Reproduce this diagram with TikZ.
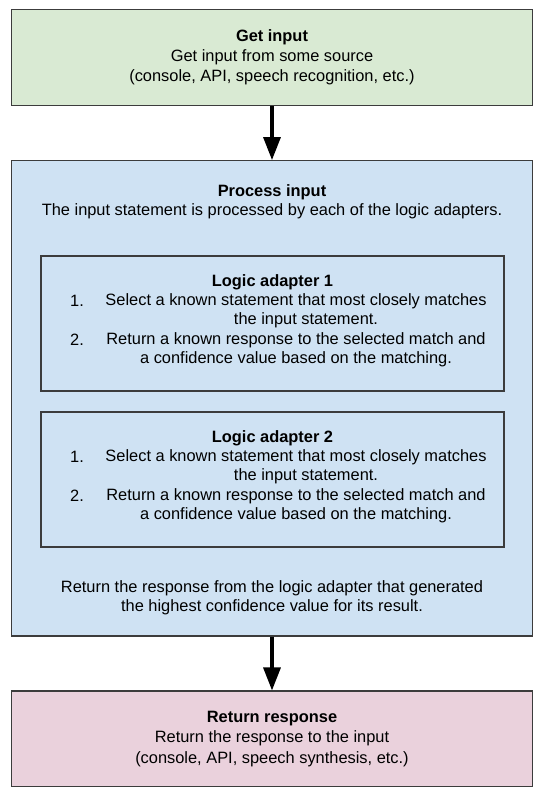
\documentclass[tikz,border=0pt]{standalone}
\usepackage{fontspec}
\setmainfont{Liberation Sans}
\usetikzlibrary{arrows.meta,positioning}

\definecolor{ingreen}{HTML}{D9EAD3}
\definecolor{procblue}{HTML}{CFE2F3}
\definecolor{outpink}{HTML}{EAD1DC}
\definecolor{edgegray}{HTML}{3C3C3C}

\begin{document}
\begin{tikzpicture}[x=1pt,y=-1pt,
  stage/.style={draw=edgegray, line width=1.2pt, minimum width=521.4pt, inner sep=0pt,
    align=center, font=\fontsize{16.4}{20.3}\selectfont},
  adapter/.style={draw=edgegray, line width=1.1pt, minimum width=463pt, minimum height=135pt},
  txt/.style={align=center, inner sep=0pt, font=\fontsize{16.4}{19.4}\selectfont},
  flow/.style={line width=3.3pt, -{Triangle[width=17pt,length=23pt]}}]

% Page area (background)
\path[fill=white] (0,0) rectangle (542,800);

% Get input
\node[stage, fill=ingreen, minimum height=95.7pt] (getin) at (272,57.3)
  {\textbf{Get input}\\Get input from some source\\(console, API, speech recognition, etc.)};

% Process input (outer box and its texts)
\node[stage, fill=procblue, minimum height=475.3pt] (procin) at (272,398.3) {};
\node[txt] (proctitle) at (272,201.5)
  {\textbf{Process input}\\The input statement is processed by each of the logic adapters.};

% Logic adapter 1
\node[adapter] (adapt1) at (272.5,323.5) {};
\node[txt] (adapt1title) at (272.5,282) {\textbf{Logic adapter 1}};
\node[txt, anchor=west] (adapt1n1) at (70,301) {1.};
\node[txt] (adapt1s1) at (296,310.5)
  {Select a known statement that most closely matches\\\hspace*{20pt}the input statement.};
\node[txt, anchor=west] (adapt1n2) at (70,340) {2.};
\node[txt] (adapt1s2) at (296,349.5)
  {Return a known response to the selected match and\\a confidence value based on the matching.};

% Logic adapter 2
\node[adapter] (adapt2) at (272.5,479.5) {};
\node[txt] (adapt2title) at (272.5,438) {\textbf{Logic adapter 2}};
\node[txt, anchor=west] (adapt2n1) at (70,457) {1.};
\node[txt] (adapt2s1) at (296,466.5)
  {Select a known statement that most closely matches\\\hspace*{20pt}the input statement.};
\node[txt, anchor=west] (adapt2n2) at (70,496) {2.};
\node[txt] (adapt2s2) at (296,505.5)
  {Return a known response to the selected match and\\a confidence value based on the matching.};

% Best response
\node[txt] (pickbest) at (272,597.5)
  {Return the response from the logic adapter that generated\\the highest confidence value for its result.};

% Return response
\node[stage, fill=outpink, minimum height=95.7pt] (retresp) at (272,738.9)
  {\textbf{Return response}\\Return the response to the input\\(console, API, speech synthesis, etc.)};

% Arrows
\draw[flow] (getin) -- (procin);
\draw[flow] (procin) -- (retresp);

\end{tikzpicture}
\end{document}
